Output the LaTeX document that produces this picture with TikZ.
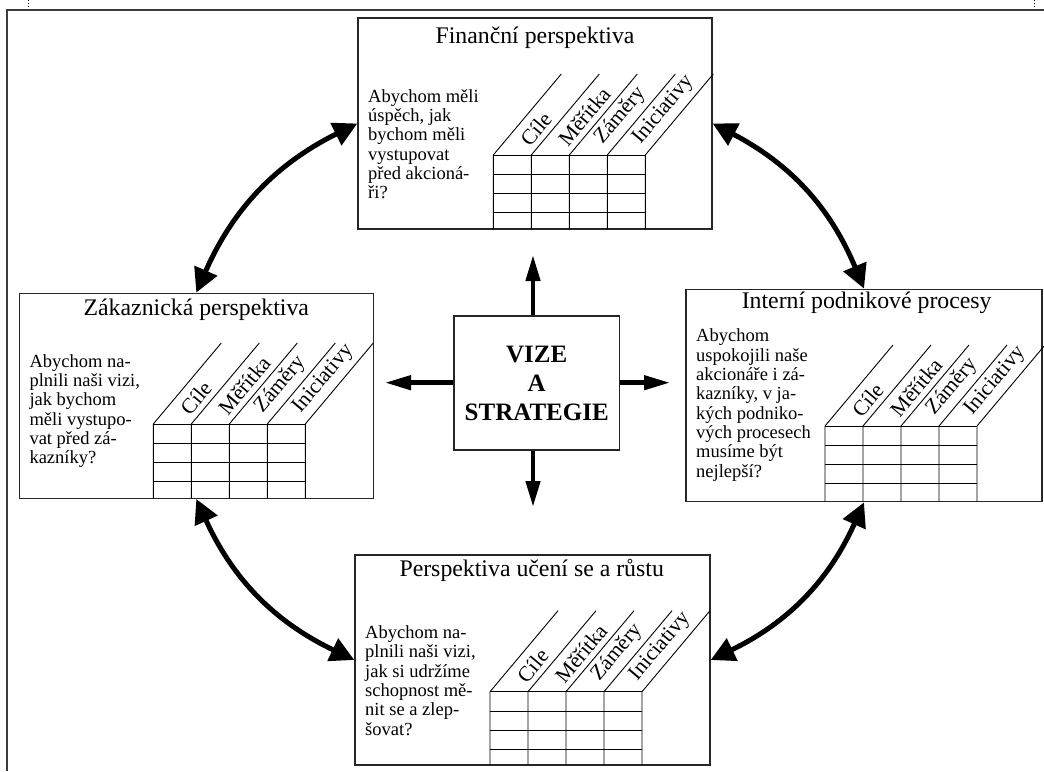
\documentclass[tikz,border=0pt]{standalone}
\usepackage{fontspec}
\setmainfont{Liberation Serif}
\usetikzlibrary{positioning, arrows.meta, calc}
\tikzstyle{pole}=[draw=black!85, line width=1.3pt, inner sep=0pt]
\tikzstyle{nadpis}=[font=\fontsize{23.8}{26}\selectfont, inner sep=0pt]
\tikzstyle{otazka}=[font=\fontsize{18.5}{19.3}\selectfont, align=left, inner sep=0pt, anchor=north west]
\tikzstyle{sloupec}=[font=\fontsize{21.5}{22}\selectfont, rotate=50, anchor=south west, inner sep=0.5pt]
\tikzstyle{dvojsipka}=[{Triangle[length=24pt,width=24pt]}-{Triangle[length=24pt,width=24pt]}, line width=5pt]
\tikzstyle{sipka}=[-{Triangle[length=26pt,width=14pt]}, line width=4.5pt]
\definecolor{ramecek}{RGB}{60,60,60}

% tabulka: x, y horni hrany, y spodni hrany, jmeno
\newcommand{\tabulka}[4]{%
  \foreach \i in {0,...,4}
    \draw[line width=0.9pt] (#1+\i*38,#2) -- (#1+\i*38,#3) (#1+\i*38,#2) -- ++(68,-81);
  \foreach \j in {0,...,3}
    \draw[line width=0.9pt] (#1,#2+\j*19.3) -- ++(152,0);
  \foreach \lbl [count=\i] in {Cíle,Měřítka,Záměry,Iniciativy}
    \node[sloupec] (#4-s\i) at (#1+\i*38-1,#2-6.5) {\lbl};
}

\begin{document}
\begin{tikzpicture}[x=1pt, y=-1pt]
  \useasboundingbox (0,0) rectangle (1044,771);
  % ramecek stranky
  \draw[ramecek, line width=2pt] (7,771) -- (7,10) -- (1044,10);
  \draw[dotted, line width=0.8pt] (28,0) -- (28,8) (1034,0) -- (1034,7);

  % ctyri perspektivy
  \node[pole, minimum width=354pt, minimum height=211pt] (fin) at (535,123.5) {};
  \node[pole, minimum width=354pt, minimum height=205pt] (zak) at (196.3,395.8) {};
  \node[pole, minimum width=356pt, minimum height=212.4pt] (int) at (864,395.5) {};
  \node[pole, minimum width=355pt, minimum height=210pt] (uc) at (532.5,660) {};
  \node[pole, minimum width=165.3pt, minimum height=134pt, align=center,
        font=\fontsize{25}{29}\selectfont\bfseries] (vize) at (536.7,383) {VIZE\\A\\STRATEGIE};

  \node[nadpis, anchor=base] (fin-t) at (535,43) {Finanční perspektiva};
  \node[nadpis, anchor=base] (zak-t) at (196.3,315) {Zákaznická perspektiva};
  \node[nadpis, anchor=base] (int-t) at (866.7,308.3) {Interní podnikové procesy};
  \node[nadpis, anchor=base] (uc-t) at (531.7,576.7) {Perspektiva učení se a růstu};

  \node[otazka] (fin-q) at (368,89.2)
    {Abychom měli\\úspěch, jak\\bychom měli\\vystupovat\\před akcioná-\\ři?};
  \node[otazka] (zak-q) at (29.3,354.2)
    {Abychom na-\\plnili naši vizi,\\jak bychom\\měli vystupo-\\vat před zá-\\kazníky?};
  \node[otazka] (int-q) at (696,328.9)
    {Abychom\\uspokojili naše\\akcionáře i zá-\\kazníky, v ja-\\kých podniko-\\vých procesech\\musíme být\\nejlepší?};
  \node[otazka] (uc-q) at (365,625.5)
    {Abychom na-\\plnili naši vizi,\\jak si udržíme\\schopnost mě-\\nit se a zlep-\\šovat?};

  \tabulka{493.3}{155}{229}{fin}
  \tabulka{153.3}{424}{498.3}{zak}
  \tabulka{825}{426}{501.7}{int}
  \tabulka{490}{691.7}{765}{uc}

  % sipky od vize
  \coordinate (nahoru) at (533,255);
  \coordinate (dolu) at (533,507);
  \coordinate (vlevo) at (385,382.7);
  \coordinate (vpravo) at (670,382.7);
  \draw[sipka] (vize.north -| nahoru) -- (nahoru);
  \draw[sipka] (vize.south -| dolu) -- (dolu);
  \draw[sipka] (vize.west |- vlevo) -- (vlevo);
  \draw[sipka] (vize.east |- vpravo) -- (vpravo);

  % oblouky mezi perspektivami
  \draw[dvojsipka] (fin.west) to[bend right=20] (zak.north);
  \draw[dvojsipka] (fin.east) to[bend left=20] (int.north);
  \draw[dvojsipka] (zak.south) to[bend right=20] (uc.west);
  \draw[dvojsipka] (uc.east) to[bend right=20] (int.south);
\end{tikzpicture}
\end{document}
